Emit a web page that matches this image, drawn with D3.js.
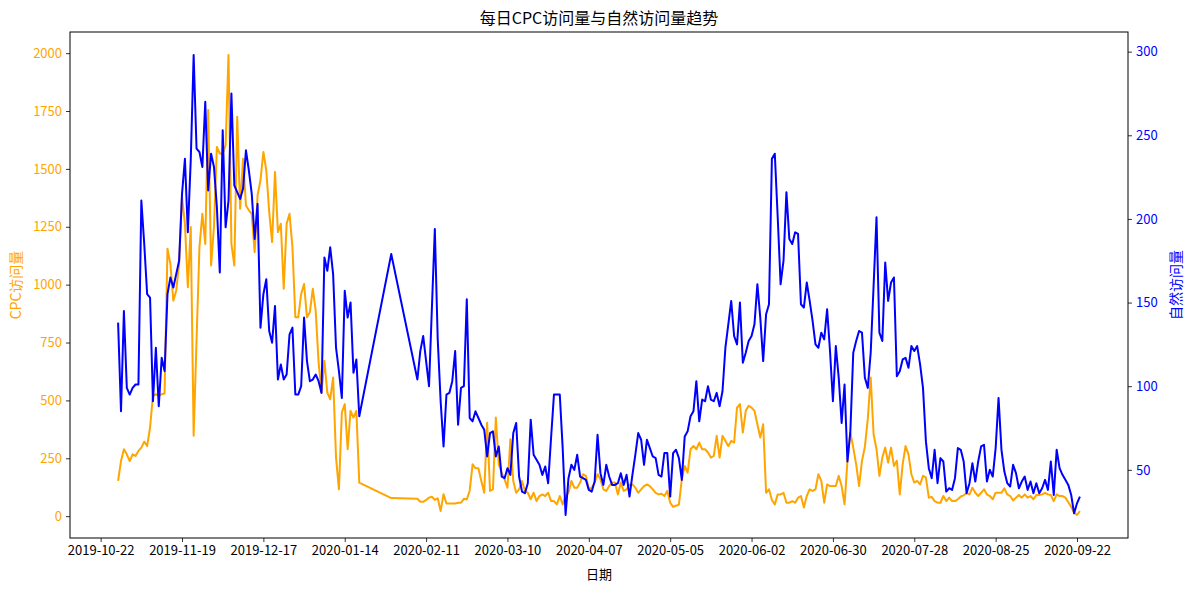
<!DOCTYPE html>
<html>
<head>
<meta charset="utf-8">
<script src="https://cdn.jsdelivr.net/npm/d3@7"></script>
<style>
    body { margin: 0; background: #fff; }
    text { font-family: "Noto Sans CJK SC", "Noto Sans", sans-serif; }
</style>
</head>
<body>
<div id="chart"></div>
<script>
// daily data, with a hole around the spring festival
const dateRuns = [["2019-10-28", "2020-01-19"], ["2020-01-30", "2020-01-30"], ["2020-02-08", "2020-09-23"]]

const cpcVisits = [
    152, 238, 289, 267,
    238, 267, 260, 282, 296, 322, 303, 383, 520, 527, 520, 527, 530, 1155, 1090, 931, 974, 1090, 1378, 1263, 989, 1249, 347, 760, 1162, 1306, 1176, 1754, 1083, 1250,
    1595, 1566, 1566, 1602, 1992, 1176, 1083, 1725, 1328, 1544, 1342, 1321, 1306, 1140, 1386, 1451, 1573, 1494, 1314, 1184, 1487, 1227, 1263, 982, 1263, 1306, 1162, 859, 859, 960, 1003,
    859, 881, 982, 888, 664, 534, 671, 534, 505, 599, 253, 116, 448, 484, 289, 455, 426, 455, 145,
    78,
    75, 62, 62, 70, 80, 84, 70, 77, 22, 95, 55, 55, 55, 55, 58, 58, 75, 72, 110, 224, 207, 207,
    152, 101, 404, 109, 116, 426, 224, 188, 159, 123, 332, 152, 101, 116, 152, 109, 101, 73, 101, 65, 87, 94, 87, 101, 65, 65, 51, 87, 51, 87, 101,
    152, 123, 123, 145, 181, 174, 116, 123, 145, 181, 159, 116, 109, 130, 145, 145, 94, 145, 109, 116, 137, 137, 123, 101, 116, 130, 137, 130, 116, 101,
    94, 97, 87, 109, 58, 40, 45, 50, 159, 217, 188, 289, 303, 289, 318, 289, 289, 275, 253, 260, 347, 253, 347, 325, 303, 325, 318, 469, 484, 361, 455,
    477, 469, 455, 397, 340, 397, 101, 116, 70, 51, 94, 94, 101, 58, 58, 65, 58, 80, 87, 37, 87, 116, 109, 116, 181, 152, 58, 137, 130, 130,
    130, 174, 130, 51, 239, 361, 296, 224, 130, 239, 300, 420, 599, 354, 289, 174, 253, 296, 231, 296, 217, 239, 94, 224, 303, 267, 181, 145, 152, 137, 174,
    167, 80, 83, 65, 58, 58, 87, 65, 80, 65, 65, 73, 85, 90, 100, 94, 123, 101, 87, 101, 116, 94, 87, 73, 101, 101, 101, 120, 94, 87, 68,
    80, 91, 80, 94, 80, 87, 73, 91, 91, 94, 101, 94, 91, 65, 94, 87, 87, 80, 60, 40, 15, 5, 22
]

const organicVisits = [
    138, 85, 145, 99,
    95, 99, 101, 101, 211, 185, 155, 153, 91, 123, 88, 117, 109, 155, 165, 159, 167, 175, 215, 236, 192, 235, 298, 242, 240, 231, 270, 217, 239, 231,
    207, 168, 253, 195, 211, 275, 220, 216, 212, 218, 241, 229, 215, 188, 209, 135, 155, 164, 133, 126, 148, 104, 113, 104, 107, 131, 135, 95, 95, 100, 141,
    115, 103, 104, 107, 103, 96, 177, 169, 183, 167, 123, 109, 93, 157, 141, 150, 108, 116, 82,
    179,
    104, 121, 130, 115, 100, 147, 194, 128, 91, 64, 95, 96, 103, 121, 77, 99, 100, 152, 81, 79, 85, 81,
    77, 74, 58, 72, 73, 58, 64, 46, 45, 51, 47, 72, 78, 46, 37, 36, 42, 80, 59, 56, 53, 47, 52, 42, 69, 95, 95, 95, 63, 23, 45,
    53, 50, 59, 46, 45, 44, 38, 37, 43, 71, 48, 41, 53, 46, 41, 41, 42, 48, 41, 47, 34, 47, 59, 72, 68, 53, 68, 63, 58, 57,
    47, 46, 60, 60, 34, 60, 62, 57, 44, 70, 73, 82, 85, 103, 79, 92, 91, 100, 92, 91, 96, 88, 97, 123, 137, 151, 130, 125, 150, 114, 120,
    127, 130, 137, 161, 141, 115, 143, 149, 236, 239, 201, 161, 175, 216, 188, 185, 192, 191, 149, 147, 162, 151, 139, 125, 123, 132, 128, 146, 121, 91,
    124, 105, 78, 101, 55, 73, 120, 127, 133, 132, 105, 99, 120, 160, 201, 132, 127, 174, 151, 162, 165, 106, 109, 116, 117, 111, 124, 121, 124, 113, 99,
    67, 51, 45, 62, 42, 57, 55, 37, 39, 38, 45, 63, 62, 55, 36, 42, 54, 43, 55, 64, 65, 43, 50, 46, 63, 93, 62, 49, 42, 40, 53,
    48, 39, 43, 46, 38, 43, 36, 42, 36, 39, 44, 38, 55, 35, 62, 51, 47, 44, 41, 35, 24, 30, 34
]

const xTicks = ["2019-10-22", "2019-11-19", "2019-12-17", "2020-01-14", "2020-02-11", "2020-03-10", "2020-04-07",
    "2020-05-05", "2020-06-02", "2020-06-30", "2020-07-28", "2020-08-25", "2020-09-22"]
const cpcTicks = [0, 250, 500, 750, 1000, 1250, 1500, 1750, 2000]
const organicTicks = [50, 100, 150, 200, 250, 300]

const parseDate = d3.timeParse("%Y-%m-%d")

var dates = []
for (var run of dateRuns) {
    var start = parseDate(run[0]), end = parseDate(run[1])
    dates = dates.concat(d3.timeDay.range(start, d3.timeDay.offset(end, 1)))
}
console.log("dates: ", dates.length, " cpc: ", cpcVisits.length, " organic: ", organicVisits.length)

var data = dates.map(function (d, i) {
    return { date: d, cpc: cpcVisits[i], organic: organicVisits[i] }
})

const width = 1189, height = 590
const margin = ({ top: 32, right: 61, bottom: 52, left: 70 })
const innerW = width - margin.left - margin.right,
    innerH = height - margin.top - margin.bottom

// matplotlib style 5% padding around the data
function padded(ext) {
    var span = ext[1] - ext[0]
    return [ext[0] - span * 0.05, ext[1] + span * 0.05]
}

var dateExt = d3.extent(dates).map(Number)
let x = d3.scaleTime()
    .domain(padded(dateExt).map(function (t) { return new Date(t) }))
    .range([0, innerW])

let yLeft = d3.scaleLinear()
    .domain(padded(d3.extent(cpcVisits)))
    .range([innerH, 0])

let yRight = d3.scaleLinear()
    .domain(padded(d3.extent(organicVisits)))
    .range([innerH, 0])

let svg = d3.select("#chart").append("svg")
    .attr("width", width)
    .attr("height", height)

svg.append("rect")
    .attr("width", width)
    .attr("height", height)
    .attr("fill", "#fff")

let g = svg.append("g")
    .attr("transform", "translate(" + margin.left + "," + margin.top + ")")

let xAxis = g.append("g")
    .attr("transform", "translate(0," + innerH + ")")
    .call(d3.axisBottom(x)
        .tickValues(xTicks.map(parseDate))
        .tickFormat(d3.timeFormat("%Y-%m-%d"))
        .tickSizeOuter(0)
        .tickSize(4)
        .tickPadding(4))

let leftAxis = g.append("g")
    .call(d3.axisLeft(yLeft)
        .tickValues(cpcTicks)
        .tickFormat(d3.format("d"))
        .tickSizeOuter(0)
        .tickSize(4)
        .tickPadding(4))

let rightAxis = g.append("g")
    .attr("transform", "translate(" + innerW + ",0)")
    .call(d3.axisRight(yRight)
        .tickValues(organicTicks)
        .tickFormat(d3.format("d"))
        .tickSizeOuter(0)
        .tickSize(4)
        .tickPadding(4))

for (var ax of [xAxis, leftAxis, rightAxis]) {
    ax.select(".domain").remove()
    ax.selectAll(".tick line").attr("stroke", "#000").attr("stroke-width", 0.8)
    ax.selectAll(".tick text")
        .attr("font-size", 13)
        .style("font-family", '"Noto Sans CJK SC", sans-serif')
}
xAxis.selectAll(".tick text").attr("fill", "#000")
leftAxis.selectAll(".tick text").attr("fill", "orange")
rightAxis.selectAll(".tick text").attr("fill", "blue")

// lines
g.append("path")
    .datum(data)
    .attr("fill", "none")
    .attr("stroke", "orange")
    .attr("stroke-width", 2)
    .attr("stroke-linejoin", "round")
    .attr("d", d3.line()
        .x(function (d) { return x(d.date) })
        .y(function (d) { return yLeft(d.cpc) }))

g.append("path")
    .datum(data)
    .attr("fill", "none")
    .attr("stroke", "blue")
    .attr("stroke-width", 2)
    .attr("stroke-linejoin", "round")
    .attr("d", d3.line()
        .x(function (d) { return x(d.date) })
        .y(function (d) { return yRight(d.organic) }))

// frame
g.append("rect")
    .attr("width", innerW)
    .attr("height", innerH)
    .attr("fill", "none")
    .attr("stroke", "#000")
    .attr("stroke-width", 1)

svg.append("text")
    .attr("x", margin.left + innerW / 2)
    .attr("y", 24)
    .attr("text-anchor", "middle")
    .attr("font-size", 16)
    .attr("fill", "#000")
    .text("每日CPC访问量与自然访问量趋势")

svg.append("text")
    .attr("x", margin.left + innerW / 2)
    .attr("y", 579)
    .attr("text-anchor", "middle")
    .attr("font-size", 13)
    .attr("fill", "#000")
    .text("日期")

svg.append("text")
    .attr("transform", "translate(21," + (margin.top + innerH / 2) + ") rotate(-90)")
    .attr("text-anchor", "middle")
    .attr("font-size", 14)
    .attr("fill", "orange")
    .text("CPC访问量")

svg.append("text")
    .attr("transform", "translate(1181," + (margin.top + innerH / 2) + ") rotate(-90)")
    .attr("text-anchor", "middle")
    .attr("font-size", 14)
    .attr("fill", "blue")
    .text("自然访问量")
</script>
</body>
</html>
